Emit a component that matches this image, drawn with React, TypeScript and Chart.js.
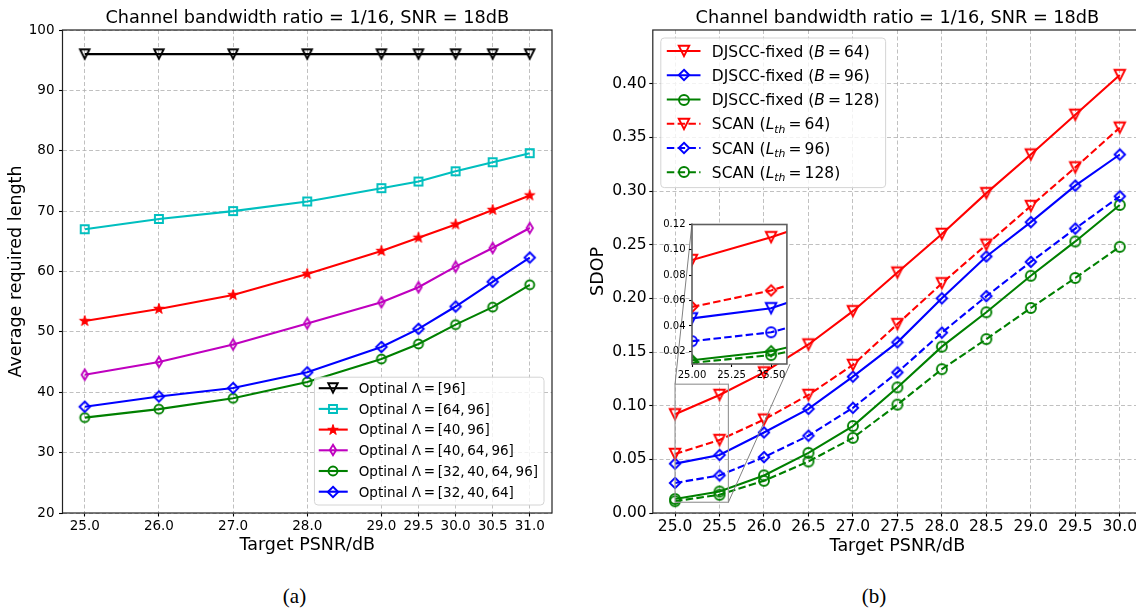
import React, { useEffect, useRef } from "react";
import { Chart, registerables } from "chart.js";

Chart.register(...registerables);

const FONT = "'DejaVu Sans', 'Liberation Sans', sans-serif";
const SERIF = "'Liberation Serif', 'Times New Roman', serif";

// ---------- panel (a): average required length ----------
const psnrA = [25.0, 26.0, 27.0, 28.0, 29.0, 29.5, 30.0, 30.5, 31.0];
const lenSet96 = [96, 96, 96, 96, 96, 96, 96, 96, 96];
const lenSet64_96 = [67.0, 68.7, 70.0, 71.6, 73.8, 74.9, 76.6, 78.1, 79.6];
const lenSet40_96 = [51.8, 53.8, 56.1, 59.6, 63.4, 65.6, 67.8, 70.2, 72.6];
const lenSet40_64_96 = [42.9, 45.0, 47.9, 51.4, 54.9, 57.4, 60.8, 63.9, 67.2];
const lenSet32_40_64_96 = [35.8, 37.2, 39.0, 41.7, 45.5, 48.0, 51.2, 54.1, 57.8];
const lenSet32_40_64 = [37.6, 39.3, 40.7, 43.3, 47.5, 50.5, 54.2, 58.3, 62.3];
const lengthTicks = [20, 30, 40, 50, 60, 70, 80, 90, 100];
const labelsA = [
  "Optinal \u039b\u2009=\u2009[96]",
  "Optinal \u039b\u2009=\u2009[64,\u200996]",
  "Optinal \u039b\u2009=\u2009[40,\u200996]",
  "Optinal \u039b\u2009=\u2009[40,\u200964,\u200996]",
  "Optinal \u039b\u2009=\u2009[32,\u200940,\u200964,\u200996]",
  "Optinal \u039b\u2009=\u2009[32,\u200940,\u200964]",
];

// ---------- panel (b): SDOP ----------
const psnrB = [25.0, 25.5, 26.0, 26.5, 27.0, 27.5, 28.0, 28.5, 29.0, 29.5, 30.0];
const djsccB64 = [0.092, 0.110, 0.131, 0.157, 0.188, 0.224, 0.260, 0.298, 0.334, 0.371, 0.408];
const djsccB96 = [0.046, 0.054, 0.075, 0.097, 0.127, 0.159, 0.200, 0.239, 0.271, 0.305, 0.334];
const djsccB128 = [0.013, 0.020, 0.035, 0.056, 0.081, 0.117, 0.155, 0.187, 0.221, 0.253, 0.287];
const scanL64 = [0.055, 0.068, 0.087, 0.110, 0.138, 0.176, 0.214, 0.250, 0.286, 0.322, 0.359];
const scanL96 = [0.028, 0.035, 0.052, 0.072, 0.098, 0.131, 0.168, 0.202, 0.234, 0.265, 0.295];
const scanL128 = [0.011, 0.017, 0.030, 0.048, 0.070, 0.101, 0.134, 0.162, 0.191, 0.219, 0.248];
const sdopTicks = [0, 0.05, 0.1, 0.15, 0.2, 0.25, 0.3, 0.35, 0.4];
const zoomRangeX = [25.0, 25.6];
const zoomRangeY = [0.01, 0.12];
const zoomPsnrTicks = [25.0, 25.25, 25.5];
const zoomSdopTicks = [0.02, 0.04, 0.06, 0.08, 0.1, 0.12];

const titleText = "Channel bandwidth ratio = 1/16, SNR = 18dB";

type Part = { t: string; it?: boolean; sub?: boolean };
const labelsB: Part[][] = [
  [{ t: "DJSCC-fixed (" }, { t: "B", it: true }, { t: "\u2009=\u200964)" }],
  [{ t: "DJSCC-fixed (" }, { t: "B", it: true }, { t: "\u2009=\u200996)" }],
  [{ t: "DJSCC-fixed (" }, { t: "B", it: true }, { t: "\u2009=\u2009128)" }],
  [{ t: "SCAN (" }, { t: "L", it: true }, { t: "th", it: true, sub: true }, { t: "\u2009=\u200964)" }],
  [{ t: "SCAN (" }, { t: "L", it: true }, { t: "th", it: true, sub: true }, { t: "\u2009=\u200996)" }],
  [{ t: "SCAN (" }, { t: "L", it: true }, { t: "th", it: true, sub: true }, { t: "\u2009=\u2009128)" }],
];

const C = {
  k: "#000000",
  c: "#00bfbf",
  r: "#ff0000",
  m: "#bf00bf",
  g: "#008000",
  b: "#0000ff",
};
const DASH = [7.5, 3.3];

// ---------- marker glyphs (hollow unless filled) ----------
function makeMarker(kind: string, color: string, size: number, lw = 1.9, filled = false) {
  const dim = Math.ceil((size + 2 * lw + 4) / 2) * 2;
  const cv = document.createElement("canvas");
  cv.width = dim;
  cv.height = dim;
  const g = cv.getContext("2d")!;
  const m = dim / 2;
  const r = size / 2;
  g.beginPath();
  if (kind === "v") {
    g.moveTo(m - r, m - r);
    g.lineTo(m + r, m - r);
    g.lineTo(m, m + r);
    g.closePath();
  } else if (kind === "s") {
    g.rect(m - r, m - r, size, size);
  } else if (kind === "o") {
    g.arc(m, m, r, 0, Math.PI * 2);
  } else if (kind === "D" || kind === "d") {
    const w = kind === "d" ? r * 0.6 : r;
    g.moveTo(m, m - r);
    g.lineTo(m + w, m);
    g.lineTo(m, m + r);
    g.lineTo(m - w, m);
    g.closePath();
  } else if (kind === "*") {
    const inner = r * 0.382;
    for (let i = 0; i < 10; i++) {
      const rad = i % 2 === 0 ? r : inner;
      const a = -Math.PI / 2 + (i * Math.PI) / 5;
      const px = m + rad * Math.cos(a);
      const py = m + rad * Math.sin(a);
      if (i === 0) g.moveTo(px, py);
      else g.lineTo(px, py);
    }
    g.closePath();
  }
  if (filled) {
    g.fillStyle = color;
    g.fill();
  }
  g.lineJoin = "miter";
  g.lineWidth = lw;
  g.strokeStyle = color;
  g.stroke();
  return cv;
}

function series(xs: number[], ys: number[]) {
  return xs.map((x, i) => ({ x, y: ys[i] }));
}

function lineDs(label: string, xs: number[], ys: number[], color: string, mark: HTMLCanvasElement, dashed: boolean, order: number) {
  return {
    label,
    data: series(xs, ys),
    borderColor: color,
    backgroundColor: color,
    borderWidth: 2.1,
    borderDash: dashed ? DASH : [],
    pointStyle: mark,
    pointRadius: 6,
    pointHoverRadius: 6,
    tension: 0,
    fill: false,
    order,
  };
}

function axis(o: any) {
  return {
    type: "linear",
    min: o.min,
    max: o.max,
    bounds: "data",
    afterBuildTicks: (s: any) => {
      s.ticks = o.ticks.map((v: number) => ({ value: v }));
    },
    afterFit: (s: any) => {
      if (o.horizontal) s.height = o.box;
      else s.width = o.box;
    },
    ticks: {
      autoSkip: false,
      maxRotation: 0,
      minRotation: 0,
      padding: o.pad,
      color: "#000",
      font: { family: FONT, size: o.size },
      callback: (v: any) => Number(v).toFixed(o.decimals),
    },
    grid: {
      display: true,
      drawOnChartArea: o.grid !== false,
      color: "rgba(176,176,176,0.8)",
      lineWidth: 1,
      drawTicks: true,
      tickLength: o.tl,
      tickColor: "#000",
      tickWidth: 1.1,
      tickBorderDash: [],
    },
    border: { display: false, dash: [4, 2.5] },
    title: o.title
      ? { display: true, text: o.title, color: "#000", font: { family: FONT, size: 17.5 }, padding: o.titlePad }
      : { display: false },
  };
}

function framePlugin(color: string, lw: number) {
  return {
    id: "frame",
    afterDatasetsDraw(chart: any) {
      const { left, top, right, bottom } = chart.chartArea;
      const ctx = chart.ctx;
      ctx.save();
      ctx.strokeStyle = color;
      ctx.lineWidth = lw;
      ctx.setLineDash([]);
      ctx.strokeRect(left, top, right - left, bottom - top);
      ctx.restore();
    },
  };
}

function partFont(p: Part, size: number) {
  const s = p.sub ? size * 0.7 : size;
  return `${p.it ? "italic " : ""}${s}px ${FONT}`;
}

function richWidth(ctx: CanvasRenderingContext2D, parts: Part[], size: number) {
  let w = 0;
  for (const p of parts) {
    ctx.font = partFont(p, size);
    w += ctx.measureText(p.t).width;
  }
  return w;
}

function drawRich(ctx: CanvasRenderingContext2D, parts: Part[], x: number, baseline: number, size: number) {
  ctx.textBaseline = "alphabetic";
  ctx.textAlign = "left";
  for (const p of parts) {
    ctx.font = partFont(p, size);
    ctx.fillText(p.t, x, baseline + (p.sub ? size * 0.22 : 0));
    x += ctx.measureText(p.t).width;
  }
}

type Entry = { parts: Part[]; color: string; dashed: boolean; mark: HTMLCanvasElement };

function legendPlugin(entries: Entry[], L: any) {
  return {
    id: "boxLegend",
    afterDraw(chart: any) {
      const ctx: CanvasRenderingContext2D = chart.ctx;
      const a = chart.chartArea;
      const maxW = Math.max(...entries.map((e) => richWidth(ctx, e.parts, L.size)));
      const w = L.textX + maxW + L.rightPad;
      const h = L.first + L.row * (entries.length - 1) + L.last;
      const x0 = L.corner === "tl" ? a.left + L.inset : a.right - L.inset - w;
      const y0 = L.corner === "tl" ? a.top + L.inset : a.bottom - L.inset - h;
      ctx.save();
      const rr = 3.5;
      ctx.beginPath();
      ctx.moveTo(x0 + rr, y0);
      ctx.arcTo(x0 + w, y0, x0 + w, y0 + h, rr);
      ctx.arcTo(x0 + w, y0 + h, x0, y0 + h, rr);
      ctx.arcTo(x0, y0 + h, x0, y0, rr);
      ctx.arcTo(x0, y0, x0 + w, y0, rr);
      ctx.closePath();
      ctx.fillStyle = "rgba(255,255,255,0.8)";
      ctx.fill();
      ctx.strokeStyle = "#d4d4d4";
      ctx.lineWidth = 1;
      ctx.stroke();
      entries.forEach((e, i) => {
        const y = y0 + L.first + i * L.row;
        ctx.beginPath();
        ctx.setLineDash(e.dashed ? DASH : []);
        ctx.strokeStyle = e.color;
        ctx.lineWidth = 2.1;
        ctx.moveTo(x0 + L.line0, y);
        ctx.lineTo(x0 + L.line1, y);
        ctx.stroke();
        ctx.setLineDash([]);
        ctx.drawImage(e.mark, Math.round(x0 + L.markX - e.mark.width / 2), Math.round(y - e.mark.height / 2));
        ctx.fillStyle = "#000";
        drawRich(ctx, e.parts, x0 + L.textX, y + 0.36 * L.size, L.size);
      });
      ctx.restore();
    },
  };
}

// inset axes geometry, in the coordinates of the SDOP canvas
const ZOOM_BOX = { left: 112, top: 223, right: 210, bottom: 364 };
const ZOOM_PAD = { left: 37, top: 8, right: 5, bottom: 3 };
const B_LEFT = 580;

function zoomMarkPlugin() {
  return {
    id: "zoomMark",
    afterDatasetsDraw(chart: any) {
      const xs = chart.scales.x;
      const ys = chart.scales.y;
      const x0 = xs.getPixelForValue(zoomRangeX[0]);
      const x1 = xs.getPixelForValue(zoomRangeX[1]);
      const y0 = ys.getPixelForValue(zoomRangeY[1]);
      const y1 = ys.getPixelForValue(zoomRangeY[0]);
      const ctx = chart.ctx;
      ctx.save();
      ctx.setLineDash([]);
      ctx.strokeStyle = "#9a9a9a";
      ctx.lineWidth = 1.2;
      ctx.strokeRect(x0, y0, x1 - x0, y1 - y0);
      ctx.strokeStyle = "#808080";
      ctx.lineWidth = 1;
      ctx.beginPath();
      ctx.moveTo(x0, y0);
      ctx.lineTo(ZOOM_BOX.left, ZOOM_BOX.top);
      ctx.moveTo(x1, y1);
      ctx.lineTo(ZOOM_BOX.right, ZOOM_BOX.bottom);
      ctx.stroke();
      ctx.restore();
    },
  };
}

function chartA(canvas: HTMLCanvasElement) {
  const mk = [
    makeMarker("v", C.k, 9.5),
    makeMarker("s", C.c, 8),
    makeMarker("*", C.r, 11, 1, true),
    makeMarker("d", C.m, 10.5),
    makeMarker("o", C.g, 9),
    makeMarker("D", C.b, 10.5),
  ];
  const ys = [lenSet96, lenSet64_96, lenSet40_96, lenSet40_64_96, lenSet32_40_64_96, lenSet32_40_64];
  const cols = [C.k, C.c, C.r, C.m, C.g, C.b];
  const datasets = ys.map((y, i) => lineDs(labelsA[i], psnrA, y, cols[i], mk[i], false, ys.length - i));
  const entries: Entry[] = labelsA.map((t, i) => ({ parts: [{ t }], color: cols[i], dashed: false, mark: mk[i] }));
  return new Chart(canvas, {
    type: "line",
    data: { datasets } as any,
    options: {
      responsive: false,
      animation: false,
      devicePixelRatio: 1,
      layout: { padding: { left: 0, top: 30, right: 18, bottom: 12 } },
      plugins: { legend: { display: false }, tooltip: { enabled: false }, title: { display: false } },
      scales: {
        x: axis({ horizontal: true, min: 24.7, max: 31.3, ticks: psnrA, decimals: 1, size: 13.5, tl: 3.5, pad: 1.5, box: 45, title: "Target PSNR/dB", titlePad: { top: 0, bottom: 2.5 } }),
        y: axis({ min: 20, max: 100, ticks: lengthTicks, decimals: 0, size: 13.5, tl: 3.5, pad: 4.5, box: 62.5, title: "Average required length", titlePad: { top: 5.5, bottom: 0 } }),
      },
    } as any,
    plugins: [
      framePlugin("#222", 1.2),
      legendPlugin(entries, { corner: "br", inset: 8, size: 13.5, first: 11, row: 20.7, last: 13.3, line0: 4.3, line1: 33.3, markX: 19, textX: 44.3, rightPad: 6 }),
    ] as any,
  });
}

function chartB(canvas: HTMLCanvasElement) {
  const mk = [
    makeMarker("v", C.r, 10.5),
    makeMarker("D", C.b, 10.5),
    makeMarker("o", C.g, 10),
    makeMarker("v", C.r, 10.5),
    makeMarker("D", C.b, 10.5),
    makeMarker("o", C.g, 10),
  ];
  const ys = [djsccB64, djsccB96, djsccB128, scanL64, scanL96, scanL128];
  const cols = [C.r, C.b, C.g, C.r, C.b, C.g];
  const datasets = ys.map((y, i) => lineDs("s" + i, psnrB, y, cols[i], mk[i], i >= 3, ys.length - i));
  const entries: Entry[] = labelsB.map((parts, i) => ({ parts, color: cols[i], dashed: i >= 3, mark: mk[i] }));
  return new Chart(canvas, {
    type: "line",
    data: { datasets } as any,
    options: {
      responsive: false,
      animation: false,
      devicePixelRatio: 1,
      layout: { padding: { left: 0, top: 30, right: 38, bottom: 12 } },
      plugins: { legend: { display: false }, tooltip: { enabled: false }, title: { display: false } },
      scales: {
        x: axis({ horizontal: true, min: 24.75, max: 30.25, ticks: psnrB, decimals: 1, size: 15.5, tl: 3.5, pad: 1, box: 45, title: "Target PSNR/dB", titlePad: { top: 0, bottom: 1 } }),
        y: axis({ min: 0, max: 0.45, ticks: sdopTicks, decimals: 2, size: 15.5, tl: 3.5, pad: 2.6, box: 72.8, title: "SDOP", titlePad: { top: 7.5, bottom: 0 } }),
      },
    } as any,
    plugins: [
      framePlugin("#222", 1.2),
      zoomMarkPlugin(),
      legendPlugin(entries, { corner: "tl", inset: 8, size: 15.5, first: 13, row: 24.26, last: 15.3, line0: 6, line1: 39.7, markX: 23, textX: 51, rightPad: 6 }),
    ] as any,
  });
}

function chartZoom(canvas: HTMLCanvasElement) {
  const mk = [
    makeMarker("v", C.r, 10.5),
    makeMarker("v", C.b, 10.5),
    makeMarker("D", C.g, 10.5),
    makeMarker("D", C.r, 10.5),
    makeMarker("o", C.b, 10),
    makeMarker("o", C.g, 10),
  ];
  const ys = [djsccB64, djsccB96, djsccB128, scanL64, scanL96, scanL128];
  const cols = [C.r, C.b, C.g, C.r, C.b, C.g];
  const datasets = ys.map((y, i) => lineDs("z" + i, psnrB, y, cols[i], mk[i], i >= 3, ys.length - i));
  const whiteArea = {
    id: "whiteArea",
    beforeDraw(chart: any) {
      const { left, top, right, bottom } = chart.chartArea;
      chart.ctx.save();
      chart.ctx.fillStyle = "#fff";
      chart.ctx.fillRect(left, top, right - left, bottom - top);
      chart.ctx.restore();
    },
  };
  return new Chart(canvas, {
    type: "line",
    data: { datasets } as any,
    options: {
      responsive: false,
      animation: false,
      devicePixelRatio: 1,
      layout: { padding: { left: ZOOM_PAD.left - 37, top: ZOOM_PAD.top, right: ZOOM_PAD.right, bottom: ZOOM_PAD.bottom } },
      plugins: { legend: { display: false }, tooltip: { enabled: false }, title: { display: false } },
      scales: {
        x: axis({ horizontal: true, min: zoomRangeX[0], max: zoomRangeX[1], ticks: zoomPsnrTicks, decimals: 2, size: 10, tl: 3, pad: 2, box: 18, grid: false }),
        y: axis({ min: zoomRangeY[0], max: zoomRangeY[1], ticks: zoomSdopTicks, decimals: 2, size: 10, tl: 3, pad: 3.5, box: 37, grid: false }),
      },
    } as any,
    plugins: [whiteArea, framePlugin("#5e5e5e", 1.6)] as any,
  });
}

export default function App() {
  const refA = useRef<HTMLCanvasElement>(null);
  const refB = useRef<HTMLCanvasElement>(null);
  const refZ = useRef<HTMLCanvasElement>(null);

  useEffect(() => {
    const charts = [chartA(refA.current!), chartB(refB.current!), chartZoom(refZ.current!)];
    return () => charts.forEach((c) => c.destroy());
  }, []);

  const zoomW = ZOOM_PAD.left + (ZOOM_BOX.right - ZOOM_BOX.left) + ZOOM_PAD.right;
  const zoomH = ZOOM_PAD.top + (ZOOM_BOX.bottom - ZOOM_BOX.top) + 18 + ZOOM_PAD.bottom;

  const titleStyle = (left: number, width: number): React.CSSProperties => ({
    position: "absolute",
    left,
    width,
    top: 7,
    textAlign: "center",
    fontFamily: FONT,
    fontSize: 17.7,
    lineHeight: "20px",
    color: "#000",
    whiteSpace: "nowrap",
  });
  const capStyle = (cx: number): React.CSSProperties => ({
    position: "absolute",
    left: cx - 50,
    width: 100,
    top: 584,
    textAlign: "center",
    fontFamily: SERIF,
    fontSize: 21,
    lineHeight: "24px",
    color: "#000",
  });

  return (
    <div style={{ position: "fixed", left: 0, top: 0, width: 1136, height: 611, overflow: "hidden", background: "#fff" }}>
      <canvas ref={refA} width={570} height={570} style={{ position: "absolute", left: 0, top: 0 }} />
      <canvas ref={refB} width={600} height={570} style={{ position: "absolute", left: B_LEFT, top: 0 }} />
      <canvas
        ref={refZ}
        width={zoomW}
        height={zoomH}
        style={{ position: "absolute", left: B_LEFT + ZOOM_BOX.left - ZOOM_PAD.left, top: ZOOM_BOX.top - ZOOM_PAD.top }}
      />
      <div style={titleStyle(62.5, 489.5)}>{titleText}</div>
      <div style={titleStyle(652.8, 489.2)}>{titleText}</div>
      <div style={capStyle(294.5)}>(a)</div>
      <div style={capStyle(874)}>(b)</div>
    </div>
  );
}
